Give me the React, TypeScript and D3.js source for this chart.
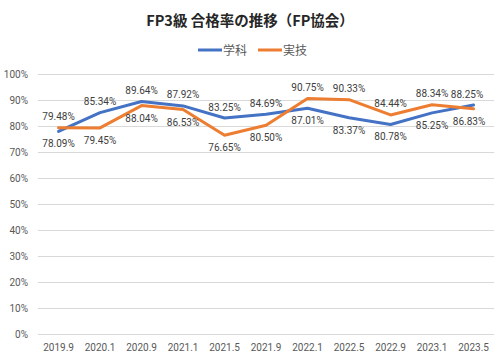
import React from "react";
import * as d3 from "d3";

const categories = ["2019.9", "2020.1", "2020.9", "2021.1", "2021.5", "2021.9", "2022.1", "2022.5", "2022.9", "2023.1", "2023.5"];
const gakka = [78.09, 85.34, 89.64, 87.92, 83.25, 84.69, 87.01, 83.37, 80.78, 85.25, 88.25];
const jitsugi = [79.48, 79.45, 88.04, 86.53, 76.65, 80.5, 90.75, 90.33, 84.44, 88.34, 86.83];
const yTicks = [0, 10, 20, 30, 40, 50, 60, 70, 80, 90, 100];
const seriesNames = ["学科", "実技"];
const colors = ["#4472C4", "#ED7D31"];

const W = 500;
const H = 360;
const font = "Roboto, 'Noto Sans CJK JP', sans-serif";

export default function App() {
  const x = d3.scaleBand<string>().domain(categories).range([37.8, 494.3]);
  const y = d3.scaleLinear().domain([0, 100]).range([334.5, 74.5]);
  const cx = (c: string) => (x(c) as number) + x.bandwidth() / 2;
  const line = d3
    .line<number>()
    .x((_, i) => cx(categories[i]))
    .y((v) => y(v));
  const series = [gakka, jitsugi];
  const labelW = 32;

  return (
    <svg width={W} height={H} style={{ position: "absolute", left: 0, top: 0, background: "#fff" }}>
      <rect width={W} height={H} fill="#fff" />
      <text x={250} y={26} textAnchor="middle" fontFamily="'Noto Sans CJK JP', sans-serif" fontWeight="bold" fontSize={14.5} fill="#262626">
        FP3級 合格率の推移（FP協会）
      </text>
      {seriesNames.map((n, i) => {
        const lx = [198, 258][i];
        return (
          <g key={n}>
            <line x1={lx} x2={lx + 24} y1={50} y2={50} stroke={colors[i]} strokeWidth={3} />
            <text x={lx + 25} y={54.5} fontFamily="'Noto Sans CJK JP', sans-serif" fontSize={12} fill="#595959">
              {n}
            </text>
          </g>
        );
      })}
      {yTicks.map((t) => (
        <g key={t}>
          <line x1={37.8} x2={494.3} y1={y(t)} y2={y(t)} stroke="#d9d9d9" strokeWidth={1} />
          <text x={28} y={y(t) + 3.5} textAnchor="end" fontFamily={font} fontSize={10} fill="#595959">
            {t}%
          </text>
        </g>
      ))}
      {categories.map((c) => (
        <text key={c} x={cx(c)} y={351} textAnchor="middle" fontFamily={font} fontSize={10} fill="#595959">
          {c}
        </text>
      ))}
      {series.map((s, i) => (
        <path key={i} d={line(s) || ""} fill="none" stroke={colors[i]} strokeWidth={3} strokeLinejoin="round" strokeLinecap="round" />
      ))}
      {series.map((s, i) =>
        s.map((v, j) => {
          const other = series[1 - i][j];
          const above = v >= other;
          const edge = above ? 483 : 485;
          const px = Math.min(cx(categories[j]), edge - labelW / 2);
          const py = above ? y(v) - 7.5 : y(v) + 16;
          return (
            <text key={`${i}-${j}`} x={px} y={py} textAnchor="middle" fontFamily={font} fontSize={10} fill="#404040">
              {v.toFixed(2)}%
            </text>
          );
        })
      )}
    </svg>
  );
}
